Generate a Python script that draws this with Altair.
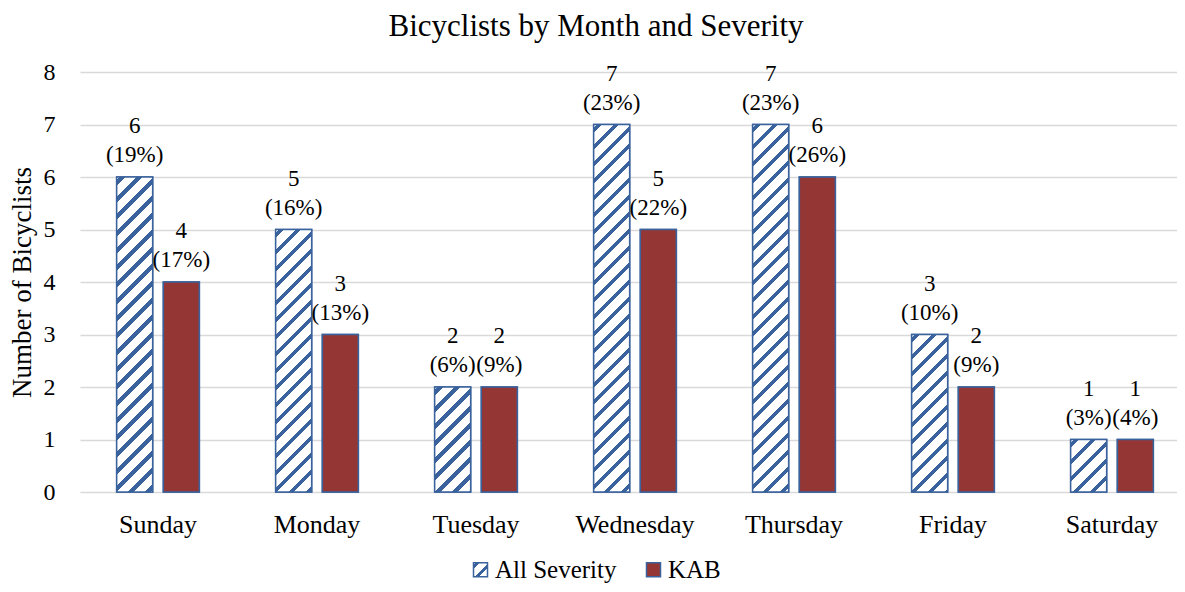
import json
import altair as alt
import pandas as pd

# ---------------- data ----------------
title_text = "Bicyclists by Month and Severity"
days = ["Sunday", "Monday", "Tuesday", "Wednesday", "Thursday", "Friday", "Saturday"]
series = ["All Severity", "KAB"]
all_severity = [6, 5, 2, 7, 7, 3, 1]
all_severity_pct = [19, 16, 6, 23, 23, 10, 3]
kab = [4, 3, 2, 5, 6, 2, 1]
kab_pct = [17, 13, 9, 22, 26, 9, 4]
y_ticks = [0, 1, 2, 3, 4, 5, 6, 7, 8]

rows = []
for i, d in enumerate(days):
    rows.append({"day": d, "series": series[0], "value": all_severity[i], "pct": all_severity_pct[i]})
    rows.append({"day": d, "series": series[1], "value": kab[i], "pct": kab_pct[i]})
df = pd.DataFrame(rows)
df["label"] = df["value"].astype(str) + "\n(" + df["pct"].astype(str) + "%)"

# ---------------- style / layout ----------------
SERIF = "Liberation Serif"
BLUE = "#3A629C"
RED = "#943634"
WHITE = "#FFFFFF"
GRID = "#D9D9D9"

PLOT_W, PLOT_H = 1097, 420
X_RANGE = 1110
PI, PO, QI = 0.48, 0.2306, 0.229
Y_MAX = 8

step = X_RANGE / (len(days) - PI + 2 * PO)
band = step * (1 - PI)
BAR_W = band * (1 - QI) / (2 - QI)


def hatch(w, h, period=17.0, stripe=5.5, phase=3.0):
    """diagonal '/' hatch as a linear gradient in bounding-box units"""
    L = w + h
    m = L / (w * w + h * h)
    stops = [{"offset": 0, "color": WHITE}]
    s = phase - period
    while s < L:
        if s + stripe > 0:
            a = round(max(s, 0) / L, 5)
            b = round(min(s + stripe, L) / L, 5)
            stops += [
                {"offset": a, "color": WHITE},
                {"offset": a, "color": BLUE},
                {"offset": b, "color": BLUE},
                {"offset": b, "color": WHITE},
            ]
        s += period
    return {"gradient": "linear", "x1": 0, "y1": 0,
            "x2": round(w * m, 5), "y2": round(h * m, 5), "stops": stops}


conds = []
for v in sorted(set(all_severity)):
    conds.append({
        "test": f"datum.series === '{series[0]}' && datum.value === {v}",
        "value": hatch(BAR_W, v * PLOT_H / Y_MAX),
    })

legend_grad = hatch(14, 14, period=13.0, stripe=4.5, phase=2.0)

x_enc = alt.X("day:N", sort=days, title=None,
              scale=alt.Scale(range=[0, X_RANGE], paddingInner=PI, paddingOuter=PO),
              axis=alt.Axis(labelFontSize=26, labelFont=SERIF, labelColor="black",
                            domain=False, ticks=False, tickSize=0, labelPadding=19,
                            labelAngle=0, grid=False))
xo_enc = alt.XOffset("series:N", sort=series,
                     scale=alt.Scale(paddingInner=QI, paddingOuter=0))
y_enc = alt.Y("value:Q", title="Number of Bicyclists",
              scale=alt.Scale(domain=[0, Y_MAX], nice=False),
              axis=alt.Axis(values=y_ticks, labelFontSize=24, labelFont=SERIF,
                            labelColor="black", domain=False, ticks=False, tickSize=0,
                            labelPadding=25, grid=True, gridColor=GRID, gridWidth=1.5,
                            titleFont=SERIF, titleFontSize=27, titleFontWeight="normal",
                            titleColor="black", titleX=-50, titleY=PLOT_H / 2,
                            titleAngle=270, titleBaseline="alphabetic",
                            titleAlign="center"))

carrier = alt.Chart(df).mark_bar(stroke=BLUE, strokeWidth=1.5).encode(
    x=x_enc, xOffset=xo_enc, y=y_enc,
    fill=alt.Fill("series:N", sort=series,
                  scale=alt.Scale(domain=series,
                                  range=[{"expr": json.dumps(legend_grad)}, RED]),
                  legend=alt.Legend(title=None, orient="none", legendX=388, legendY=485,
                                    direction="horizontal", symbolType="square",
                                    symbolSize=196, symbolStrokeColor=BLUE,
                                    symbolStrokeWidth=1.5, labelFont=SERIF,
                                    labelFontSize=25, labelColor="black",
                                    labelOffset=2, columnPadding=24, padding=0)),
)

bars = alt.Chart(df).mark_bar(stroke=BLUE, strokeWidth=1.5).encode(
    x=x_enc, xOffset=xo_enc, y=y_enc,
    fill=alt.FillValue(value=RED, condition=conds),
)

labels = alt.Chart(df).mark_text(
    baseline="bottom", dy=-39, fontSize=23, font=SERIF, color="black",
    lineBreak="\n", lineHeight=29,
).encode(x=x_enc, xOffset=xo_enc, y=y_enc, text="label:N")

title = alt.Chart(pd.DataFrame({"t": [title_text]})).mark_text(
    font=SERIF, fontSize=31, color="black", align="center", baseline="alphabetic",
).encode(text="t:N", x=alt.value(516), y=alt.value(-36))

chart = alt.layer(carrier, bars, labels, title).properties(
    width=PLOT_W, height=PLOT_H,
    autosize=alt.AutoSizeParams(type="none"),
    padding={"left": 72, "top": 64, "right": 0, "bottom": 92},
).configure_view(stroke=None)

chart.save("out.html", embed_options={"renderer": "svg", "actions": False})
